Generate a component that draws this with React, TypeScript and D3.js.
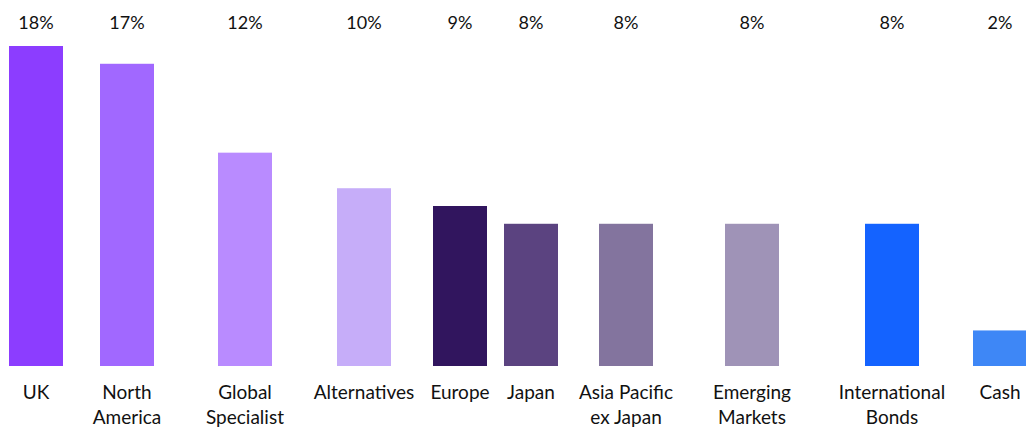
import React, { useEffect, useRef } from "react";
import * as d3 from "d3";

// categories (line breaks as shown under the bars)
const categories = [
  "UK",
  "North\nAmerica",
  "Global\nSpecialist",
  "Alternatives",
  "Europe",
  "Japan",
  "Asia Pacific\nex Japan",
  "Emerging\nMarkets",
  "International\nBonds",
  "Cash",
];

// allocation in %
const allocation = [18, 17, 12, 10, 9, 8, 8, 8, 8, 2];

const barColors = [
  "#8c3dff",
  "#a168ff",
  "#b98bff",
  "#c6adf9",
  "#31155e",
  "#5b4380",
  "#83749e",
  "#9f93b7",
  "#1463ff",
  "#3e87f6",
];

// the label grid is not even: each column gets its own width (px)
const columnWidths = [72, 110, 126, 112, 80, 62, 128, 124, 156, 60];

const App = () => {
  const chartRef = useRef<SVGSVGElement | null>(null);

  useEffect(() => {
    if (!chartRef.current) return;
    const svg = d3.select(chartRef.current);
    const height = 429;
    const margin = { top: 46, bottom: 63 };
    const barWidth = 54;
    const font = "Lato, 'Gill Sans', sans-serif";

    svg.selectAll("*").remove();

    // column start positions from the widths
    const starts = [0, ...Array.from(d3.cumsum(columnWidths))];
    const x = d3
      .scaleOrdinal<string, number>()
      .domain(categories)
      .range(categories.map((_, i) => starts[i] + columnWidths[i] / 2));

    const y = d3
      .scaleLinear()
      .domain([0, d3.max(allocation) as number])
      .range([height - margin.bottom, margin.top]);

    const data = categories.map((c, i) => ({ cat: c, value: allocation[i], color: barColors[i] }));

    svg
      .append("g")
      .selectAll("rect")
      .data(data)
      .join("rect")
      .attr("x", (d) => x(d.cat) - barWidth / 2)
      .attr("y", (d) => y(d.value))
      .attr("width", barWidth)
      .attr("height", (d) => y(0) - y(d.value))
      .attr("fill", (d) => d.color);

    // value labels along the top
    svg
      .append("g")
      .selectAll("text")
      .data(data)
      .join("text")
      .attr("x", (d) => x(d.cat))
      .attr("y", 29)
      .attr("text-anchor", "middle")
      .attr("font-family", font)
      .attr("font-size", "18px")
      .attr("fill", "#111")
      .text((d) => d.value + "%");

    // category labels under the bars
    const labels = svg
      .append("g")
      .selectAll("text")
      .data(data)
      .join("text")
      .attr("x", (d) => x(d.cat))
      .attr("y", 399)
      .attr("text-anchor", "middle")
      .attr("font-family", font)
      .attr("font-size", "19px")
      .attr("fill", "#111");

    labels
      .selectAll("tspan")
      .data((d) => d.cat.split("\n").map((t) => ({ t, cx: x(d.cat) })))
      .join("tspan")
      .attr("x", (d) => d.cx)
      .attr("dy", (_, i) => (i === 0 ? 0 : 25))
      .text((d) => d.t);
  }, []);

  return (
    <svg
      ref={chartRef}
      width={1026}
      height={429}
      style={{ position: "absolute", left: 0, top: 0, background: "#fff" }}
    ></svg>
  );
};

export default App;
